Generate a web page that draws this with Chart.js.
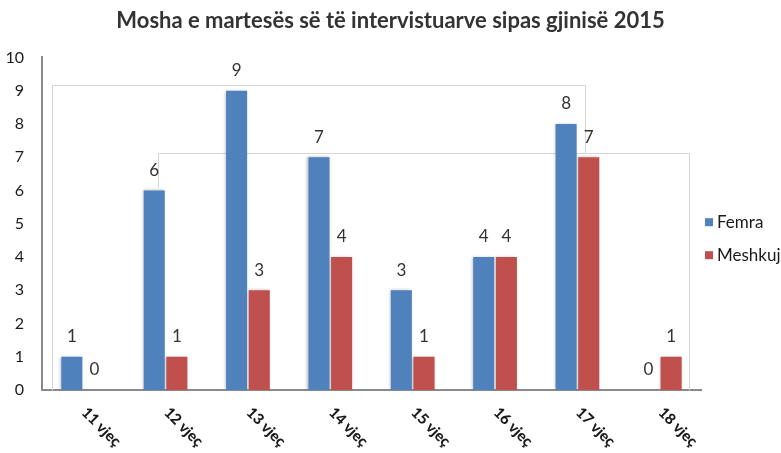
<!DOCTYPE html>
<html>
<head>
<meta charset="utf-8">
<script src="https://cdn.jsdelivr.net/npm/chart.js@4/dist/chart.umd.min.js"></script>
<style>
  html, body { margin: 0; padding: 0; background: #fff; overflow: hidden; }
</style>
</head>
<body>
<canvas id="moshaChart" width="781" height="453"></canvas>
<script>
// të dhënat
const moshaLabels = ['11 vjeç', '12 vjeç', '13 vjeç', '14 vjeç', '15 vjeç', '16 vjeç', '17 vjeç', '18 vjeç'];
const femra = [1, 6, 9, 7, 3, 4, 8, 0];
const meshkuj = [0, 1, 3, 4, 1, 4, 7, 1];
const yTicks = [0, 1, 2, 3, 4, 5, 6, 7, 8, 9, 10];

const FONT = 'Lato, "Liberation Sans", sans-serif';

// kornizat gri në sfond (si në Excel), në njësi të shkallës
const bgFrames = [
  [[-0.38, 0], [-0.38, 9.16], [6.09, 9.16], [6.09, 7.13]],
  [[0.91, 6.1], [0.91, 7.13], [7.35, 7.13], [7.35, 0]]
];

const frameLines = {
  id: 'frameLines',
  beforeDatasetsDraw(chart) {
    const c = chart.ctx, x = chart.scales.x, y = chart.scales.y;
    c.save();
    c.strokeStyle = '#d4d4d4';
    c.lineWidth = 1;
    bgFrames.forEach(pts => {
      c.beginPath();
      pts.forEach((p, k) => {
        const px = Math.round(x.getPixelForValue(p[0])) + 0.5;
        const py = Math.round(y.getPixelForValue(p[1])) + 0.5;
        if (k === 0) c.moveTo(px, py); else c.lineTo(px, py);
      });
      c.stroke();
    });
    c.restore();
    // hije e lehtë e shtyllave
    c.save();
    c.shadowColor = 'rgba(0,0,0,0.28)';
    c.shadowBlur = 3;
    c.shadowOffsetX = -1;
  },
  afterDatasetsDraw(chart) {
    chart.ctx.restore();
  }
};

const valueLabels = {
  id: 'valueLabels',
  afterDatasetsDraw(chart) {
    const c = chart.ctx;
    c.save();
    c.font = '17px ' + FONT;
    c.fillStyle = '#333';
    c.textAlign = 'center';
    c.textBaseline = 'middle';
    chart.data.datasets.forEach((ds, i) => {
      chart.getDatasetMeta(i).data.forEach((bar, j) => {
        c.fillText(ds.data[j], bar.x, bar.y - 20);
      });
    });
    c.restore();
  }
};

const slantedTicks = {
  id: 'slantedTicks',
  afterDraw(chart) {
    const c = chart.ctx, x = chart.scales.x;
    c.save();
    c.font = '900 15px ' + FONT;
    c.fillStyle = '#1a1a1a';
    c.textAlign = 'left';
    c.textBaseline = 'middle';
    moshaLabels.forEach((lab, i) => {
      c.save();
      c.translate(x.getPixelForValue(i) + 1, x.top + 20);
      c.rotate(Math.PI / 4);
      c.fillText(lab, 0, 0);
      c.restore();
    });
    c.restore();
  }
};

// legjenda në të djathtë, e prerë në skaj si në origjinal
const sideLegend = {
  id: 'sideLegend',
  afterDraw(chart) {
    const c = chart.ctx, area = chart.chartArea;
    const mid = (area.top + area.bottom) / 2 + 15;
    c.save();
    c.font = '17px ' + FONT;
    c.textAlign = 'left';
    c.textBaseline = 'middle';
    chart.data.datasets.forEach((ds, i) => {
      const yy = mid + (i - 0.5) * 33;
      c.fillStyle = ds.backgroundColor;
      c.fillRect(area.right + 4, yy - 4, 8, 8);
      c.fillStyle = '#1a1a1a';
      c.fillText(ds.label, area.right + 16, yy);
    });
    c.restore();
  }
};

const ctx = document.getElementById('moshaChart').getContext('2d');

new Chart(ctx, {
  type: 'bar',
  data: {
    labels: moshaLabels,
    datasets: [
      { label: 'Femra', data: femra, backgroundColor: '#4F81BD', barPercentage: 0.93, categoryPercentage: 0.55 },
      { label: 'Meshkuj', data: meshkuj, backgroundColor: '#C0504D', barPercentage: 0.93, categoryPercentage: 0.55 }
    ]
  },
  options: {
    responsive: false,
    animation: false,
    layout: { padding: 0 },
    plugins: {
      title: {
        display: true,
        text: 'Mosha e martesës së të intervistuarve sipas gjinisë 2015',
        color: '#333',
        font: { family: FONT, size: 22, weight: 'bold' },
        padding: { top: 8, bottom: 23 }
      },
      legend: { display: false },
      tooltip: { enabled: false }
    },
    scales: {
      x: {
        afterFit: axis => { axis.height = 63; },
        grid: { display: false, drawTicks: false },
        border: { display: true, color: '#8a8a8a', width: 2 },
        ticks: { display: false }
      },
      y: {
        min: 0,
        max: 10,
        afterBuildTicks: axis => { axis.ticks = yTicks.map(v => ({ value: v })); },
        afterFit: axis => { axis.width = 42; },
        grid: { display: false, drawTicks: false },
        border: { display: true, color: '#8a8a8a', width: 2 },
        ticks: {
          padding: 18,
          color: '#1a1a1a',
          font: { family: FONT, size: 16 }
        }
      },
      // bosht i padukshëm që lë vend për legjendën
      legendSpace: {
        position: 'right',
        min: 0,
        max: 10,
        afterFit: axis => { axis.width = 80; },
        grid: { display: false, drawTicks: false },
        border: { display: false },
        ticks: { display: false }
      }
    }
  },
  plugins: [frameLines, valueLabels, slantedTicks, sideLegend]
});
</script>
</body>
</html>
